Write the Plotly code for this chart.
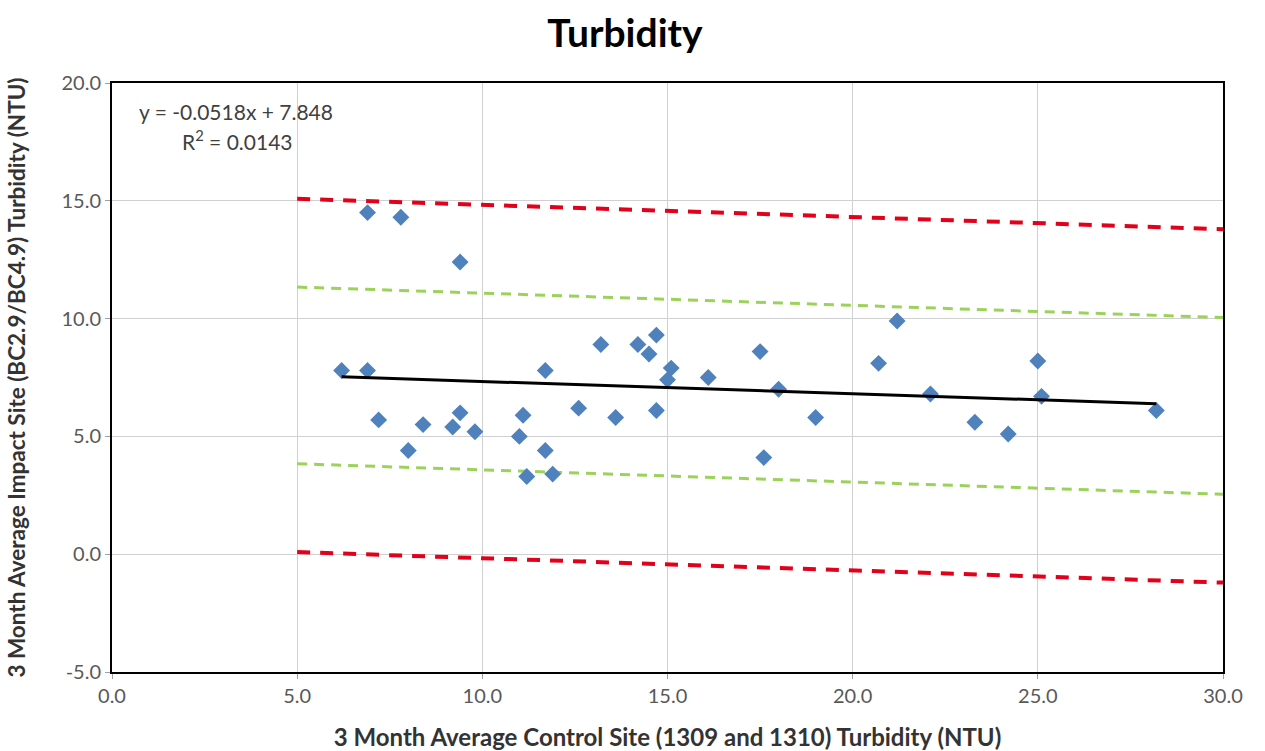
import plotly.graph_objects as go

# Data
control_x = [6.2, 6.9, 6.9, 7.2, 7.8, 8.0, 8.4, 9.4, 9.2, 9.4, 9.8, 11.0, 11.1, 11.2,
             11.7, 11.7, 11.9, 12.6, 13.2, 13.6, 14.2, 14.5, 14.7, 14.7, 15.1, 15.0,
             16.1, 17.5, 17.6, 18.0, 19.0, 20.7, 21.2, 22.1, 23.3, 24.2, 25.0, 25.1, 28.2]
impact_y = [7.8, 14.5, 7.8, 5.7, 14.3, 4.4, 5.5, 12.4, 5.4, 6.0, 5.2, 5.0, 5.9, 3.3,
            7.8, 4.4, 3.4, 6.2, 8.9, 5.8, 8.9, 8.5, 9.3, 6.1, 7.9, 7.4,
            7.5, 8.6, 4.1, 7.0, 5.8, 8.1, 9.9, 6.8, 5.6, 5.1, 8.2, 6.7, 6.1]

slope = -0.0518
intercept = 7.848
trend_x = [6.2, 28.2]
band_x = [5.0, 30.0]
green_offset = 3.75
red_offset = 7.5

x_ticks = [0, 5, 10, 15, 20, 25, 30]
y_ticks = [-5, 0, 5, 10, 15, 20]

font_family = "Lato, 'Open Sans', sans-serif"
tick_color = "#595959"

def line_y(xs, off):
    return [slope * x + intercept + off for x in xs]

fig = go.Figure()

for off, col, w, dash in [(red_offset, "#E3001B", 4, "13px,10px"),
                          (-red_offset, "#E3001B", 4, "13px,10px"),
                          (green_offset, "#9BD35A", 3, "10px,7px"),
                          (-green_offset, "#9BD35A", 3, "10px,7px")]:
    fig.add_trace(go.Scatter(x=band_x, y=line_y(band_x, off), mode="lines",
                             line=dict(color=col, width=w, dash=dash),
                             showlegend=False, hoverinfo="skip"))

fig.add_trace(go.Scatter(x=control_x, y=impact_y, mode="markers",
                         marker=dict(symbol="diamond", size=13, color="#4F81BD"),
                         showlegend=False))

fig.add_trace(go.Scatter(x=trend_x, y=line_y(trend_x, 0), mode="lines",
                         line=dict(color="black", width=3), showlegend=False))

fig.add_annotation(x=0.0228, y=0.951, xref="paper", yref="paper", xanchor="left", yanchor="middle",
                   text="y = -0.0518x + 7.848", showarrow=False,
                   font=dict(family=font_family, size=21, color="#404040"))
fig.add_annotation(x=0.0615, y=0.904, xref="paper", yref="paper", xanchor="left", yanchor="middle",
                   text="R<sup>2</sup> = 0.0143", showarrow=False,
                   font=dict(family=font_family, size=21, color="#404040"))

fig.update_layout(
    width=1265, height=751,
    margin=dict(l=112, r=42, t=83, b=79),
    paper_bgcolor="white", plot_bgcolor="white",
    title=dict(text="<b>Turbidity</b>", x=0.494, xanchor="center", y=0.956, yanchor="middle",
               font=dict(family=font_family, size=39, color="black")),
    font=dict(family=font_family),
)
fig.update_xaxes(range=[0, 30], tickvals=x_ticks, ticktext=[f"{v:.1f}" for v in x_ticks],
                 showgrid=True, gridcolor="#D0D0D0", gridwidth=1, zeroline=False,
                 showline=True, linecolor="black", linewidth=2, mirror=True,
                 ticks="outside", ticklen=5, tickcolor="#A0A0A0", automargin=False,
                 tickfont=dict(family=font_family, size=20, color=tick_color),
                 title=dict(text="<b>3 Month Average Control Site (1309 and 1310) Turbidity (NTU)</b>",
                            font=dict(family=font_family, size=24, color="#333333"), standoff=24))
fig.update_yaxes(range=[-5, 20], tickvals=y_ticks, ticktext=[f"{v:.1f}" for v in y_ticks],
                 showgrid=True, gridcolor="#D0D0D0", gridwidth=1, zeroline=False,
                 showline=True, linecolor="black", linewidth=2, mirror=True,
                 ticks="outside", ticklen=5, tickcolor="#A0A0A0", automargin=False,
                 tickfont=dict(family=font_family, size=20, color=tick_color),
                 title=dict(text="<b>3 Month Average Impact Site (BC2.9/BC4.9) Turbidity (NTU)</b>",
                            font=dict(family=font_family, size=22.5, color="#333333"), standoff=30))

fig.write_html("out.html")
